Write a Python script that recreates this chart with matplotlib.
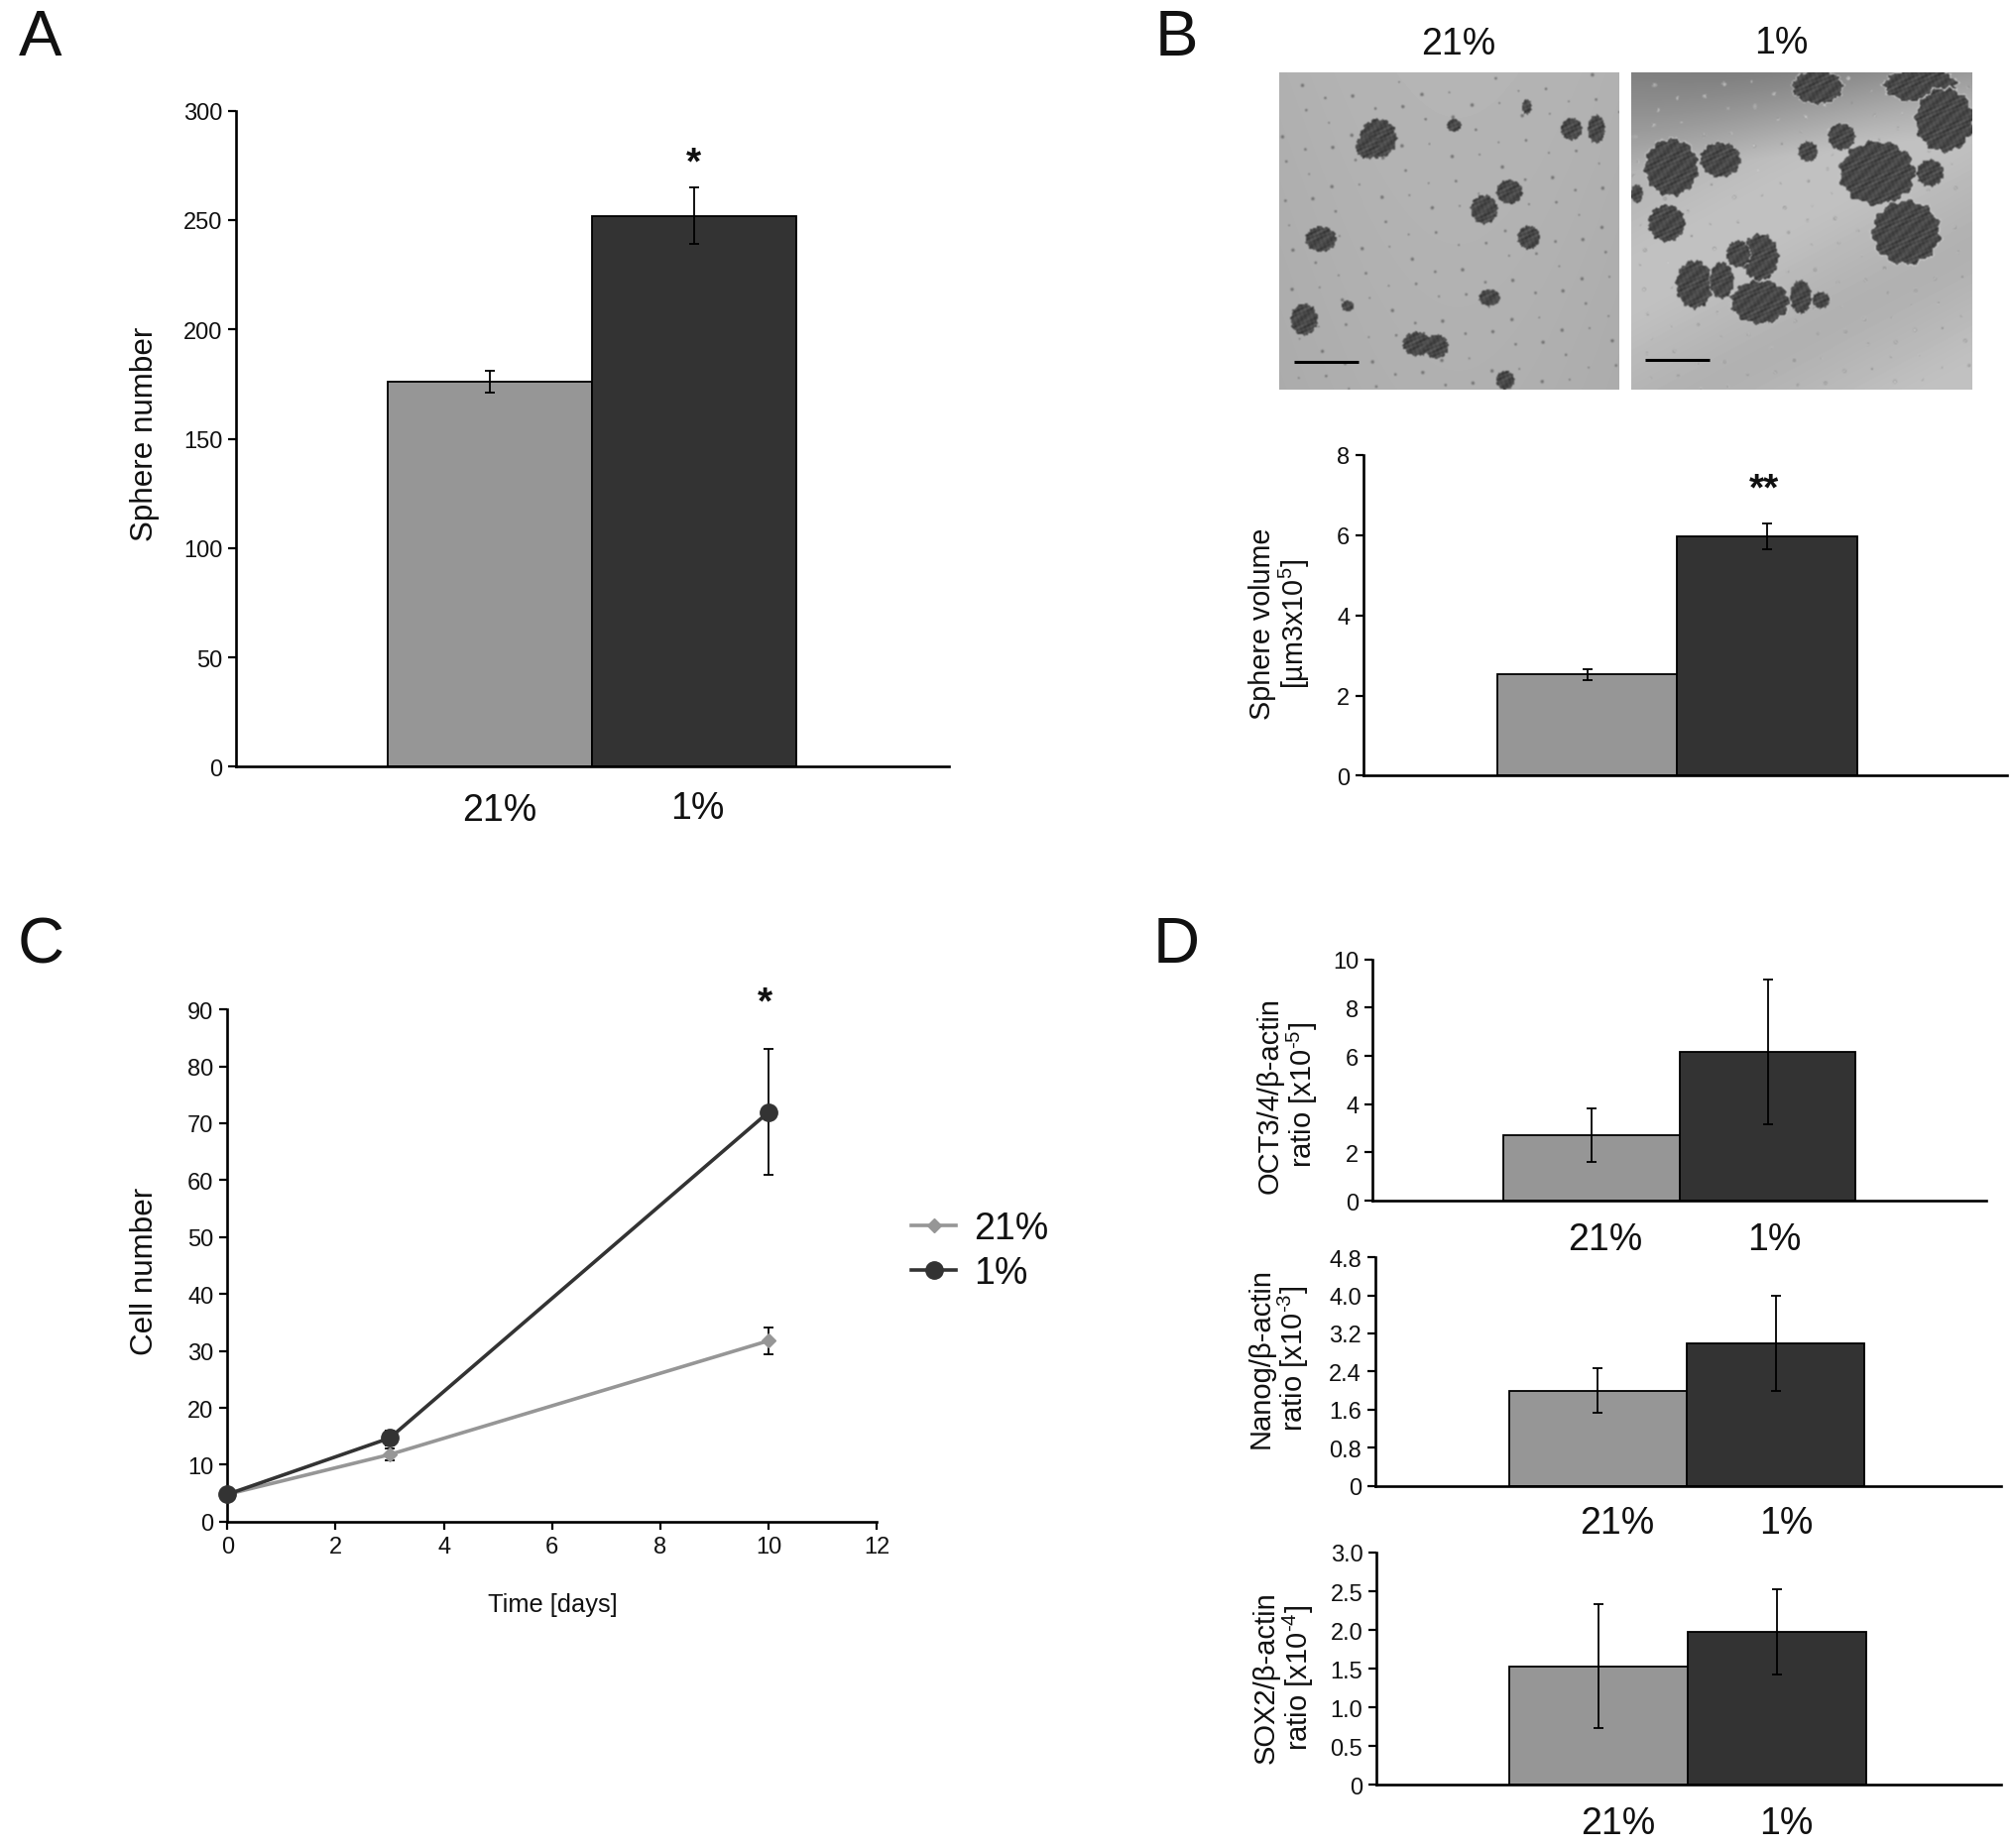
import numpy as np
import matplotlib
matplotlib.use("Agg")
import matplotlib.pyplot as plt

plt.rcParams['font.family'] = ['Liberation Sans', 'DejaVu Sans']
plt.rcParams['mathtext.fontset'] = 'custom'
plt.rcParams['mathtext.rm'] = 'Liberation Sans'
plt.rcParams['mathtext.default'] = 'regular'

W, H = 2031, 1865
S = 1.295
ZX = 2.07
LIGHT = '#969696'
DARK = '#333333'

categories = ['21%', '1%']

sphere_number = [176, 252]
sphere_number_err = [5, 13]
sphere_volume = [2.52, 5.97]
sphere_volume_err = [0.13, 0.33]

days = [0, 3, 10]
cells_21 = [4.8, 11.8, 31.8]
cells_21_err = [0.3, 1.0, 2.4]
cells_1 = [4.8, 14.7, 72.0]
cells_1_err = [0.3, 1.3, 11.0]

oct_vals = [2.72, 6.17]
oct_err = [1.12, 3.0]
nanog_vals = [2.0, 3.0]
nanog_err = [0.47, 1.0]
sox_vals = [1.53, 1.97]
sox_err = [0.8, 0.55]

blobs_left = [(247, 240, 38, 58), (225, 265, 25, 36), (405, 201, 15, 19), (557, 145, 10, 22),
              (650, 212, 22, 33), (702, 212, 18, 42), (521, 402, 27, 36), (468, 455, 28, 43),
              (561, 540, 23, 35), (127, 545, 32, 38), (479, 722, 22, 25), (183, 747, 13, 16),
              (92, 788, 28, 47), (328, 862, 30, 36), (368, 870, 25, 36), (512, 972, 19, 28)]
blobs_right = [(860, 328, 55, 85), (962, 305, 42, 52), (850, 497, 38, 55), (788, 408, 12, 28),
               (1165, 85, 52, 50), (1380, 80, 75, 50), (1430, 185, 60, 95), (1290, 345, 78, 95),
               (1215, 235, 28, 40), (1400, 345, 28, 40), (1350, 525, 70, 95), (1145, 280, 20, 30),
               (908, 682, 38, 72), (965, 670, 25, 55), (1045, 735, 60, 65), (1045, 600, 38, 70),
               (1000, 590, 25, 40), (1130, 720, 22, 50), (1172, 730, 18, 25)]


def make_axes(x0, x1, ytop, ybot):
    return fig.add_axes([x0 * S / W, 1 - ybot * S / H, (x1 - x0) * S / W, (ybot - ytop) * S / H])


def label(x, y, s, size, **kw):
    kw.setdefault('ha', 'center')
    kw.setdefault('va', 'center')
    fig.text(x * S / W, 1 - y * S / H, s, fontsize=size, color='#111111', **kw)


def style(ax, tick_size=17):
    for side in ('top', 'right'):
        ax.spines[side].set_visible(False)
    for side in ('left', 'bottom'):
        ax.spines[side].set_linewidth(1.9)
    ax.tick_params(axis='y', length=6, width=1.6, labelsize=tick_size, pad=4, direction='out',
                   labelcolor='#111111')


def bar_panel(box, bar_edges, values, errs, ylim, yticks, yticklabels):
    x0, x1, ytop, ybot = box
    ax = make_axes(x0, x1, ytop, ybot)
    style(ax)
    b0, b1, b2 = bar_edges
    unit = (b2 - b0) / 2.0
    ax.set_xlim(-0.5 - (b0 - x0) / unit, 1.5 + (x1 - b2) / unit)
    ax.set_ylim(*ylim)
    ax.bar([0, 1], values, width=1.0, color=[LIGHT, DARK], edgecolor='black', linewidth=1.3, zorder=2)
    ax.errorbar([0, 1], values, yerr=errs, fmt='none', ecolor='black', elinewidth=1.3,
                capsize=3.5, capthick=1.3, zorder=3)
    ax.set_xticks([])
    ax.set_yticks(yticks)
    ax.set_yticklabels(yticklabels)
    return ax


def photo(blobs, zx0, zx1, zy0, zy1, dark_top):
    xs = np.arange(zx0, zx1, ZX)
    ys = np.arange(zy0, zy1, 3.0)
    xx, yy = np.meshgrid(xs, ys)
    u = (xx - zx0) / (zx1 - zx0)
    v = (yy - zy0) / (zy1 - zy0)
    if dark_top:
        img = 186 - 58 * np.clip(1.0 - v * 3.2 - 0.35 * u, 0, 1) - 8 * np.sin(v * 7 + u * 4)
    else:
        img = 176 + 5 * np.sin(u * 3) - 5 * v
    n = 170 if dark_top else 150
    for i in range(1, n):
        sx = zx0 + ((i * 0.7548776662) % 1) * (zx1 - zx0)
        sy = zy0 + ((i * 0.5698402910) % 1) * (zy1 - zy0)
        r = 3.5 + (i % 3) * 1.5
        d2 = (((xx - sx) * 1.46) ** 2 + (yy - sy) ** 2) / r ** 2
        if dark_top:
            img = np.where(d2 < 1, 115 + 80 * d2, img)
            img = np.where(d2 < 0.2, 205, img)
        else:
            img = np.where(d2 < 1, 105 + 65 * d2, img)
    for (cx, cy, rx, ry) in blobs:
        dx = (xx - cx) / rx
        dy = (yy - cy) / ry
        ang = np.arctan2(dy, dx)
        edge = 1 + 0.05 * np.sin(11 * ang + cx) + 0.03 * np.sin(23 * ang + cy)
        inside = dx ** 2 + dy ** 2 < edge ** 2
        tex = (72 + 14 * np.sin(xx / 2.1 + 0.13 * yy + cy) * np.sin(yy / 3.3 - 0.2 * xx + cx)
               + 9 * np.sin(xx / 4.3 + yy / 6.1) + 7 * np.sin(yy / 1.9 + xx / 3.1))
        if dark_top:
            halo = (dx ** 2 + dy ** 2 < (edge + 0.05) ** 2) & ~inside
            img = np.where(halo, 195, img)
        img = np.where(inside, tex, img)
    kernel = np.array([0.25, 0.5, 0.25])
    blur = lambda a: np.convolve(np.pad(a, 1, mode='edge'), kernel, 'valid')
    img = np.apply_along_axis(blur, 0, img)
    img = np.apply_along_axis(blur, 1, img)
    return img


fig = plt.figure(figsize=(W / 100, H / 100), dpi=100, facecolor='white')

# Panel letters
label(31, 30, 'A', 47)
label(916, 30, 'B', 47)
label(32, 737, 'C', 47)
label(916, 737, 'D', 47)

# Panel A
ax = bar_panel((184, 739, 87, 598), (302, 461, 620), sphere_number, sphere_number_err,
               (0, 300), [0, 50, 100, 150, 200, 250, 300], ['0', '50', '100', '150', '200', '250', '300'])
label(113, 338, 'Sphere number', 22.6, rotation=90)
label(389, 632, categories[0], 27)
label(543, 630, categories[1], 27)
label(540, 128, '*', 28, fontweight='bold')

# Panel B photos
for (blobs, zr, dark, bar) in ((blobs_left, (41, 751), False, (73, 207, 917)),
                               (blobs_right, (777, 1489), True, (805, 940, 912))):
    zx0, zx1 = zr
    zy0, zy1 = 42, 1002
    px0 = (1270 + zx0 / ZX) / S
    px1 = (1270 + zx1 / ZX) / S
    py0 = (60 + zy0 / 3) / S
    py1 = (60 + zy1 / 3) / S
    pax = make_axes(px0, px1, py0, py1)
    pax.imshow(photo(blobs, zx0, zx1, zy0, zy1, dark), cmap='gray', vmin=0, vmax=255,
               extent=(zx0, zx1, zy1, zy0), aspect='auto', interpolation='bilinear')
    pax.plot(bar[:2], [bar[2], bar[2]], color='black', lw=2.2, solid_capstyle='butt')
    pax.set_xlim(zx0, zx1)
    pax.set_ylim(zy1, zy0)
    pax.axis('off')
label(1136, 35, categories[0], 27)
label(1387, 34, categories[1], 27)

# Panel B chart
ax = bar_panel((1062, 1563, 355, 605), (1166, 1306, 1446), sphere_volume, sphere_volume_err,
               (0, 8), [0, 2, 4, 6, 8], ['0', '2', '4', '6', '8'])
label(997, 486, 'Sphere volume\n[µm3x10$^{5}$]', 20.7, rotation=90, linespacing=1.05)
label(1374, 382, '**', 28, fontweight='bold')

# Panel C
ax = make_axes(177, 683, 787, 1186)
style(ax)
ax.tick_params(axis='x', length=6, width=1.6, labelsize=17, pad=4, labelcolor='#111111')
ax.set_xlim(0, 12)
ax.set_ylim(0, 90)
ax.set_xticks([0, 2, 4, 6, 8, 10, 12])
ax.set_yticks([0, 10, 20, 30, 40, 50, 60, 70, 80, 90])
ax.errorbar(days, cells_21, yerr=cells_21_err, color=LIGHT, ecolor='black', elinewidth=1.3, capsize=3.5,
            capthick=1.3, lw=2.6, marker='D', ms=7.5, mfc=LIGHT, mec=LIGHT, label=categories[0],
            clip_on=False, zorder=3)
ax.errorbar(days, cells_1, yerr=cells_1_err, color=DARK, ecolor='black', elinewidth=1.3, capsize=3.5,
            capthick=1.3, lw=2.6, marker='o', ms=12.5, mfc=DARK, mec=DARK, label=categories[1],
            clip_on=False, zorder=4)
handles, labels_ = ax.get_legend_handles_labels()
handles = [h[0] for h in handles]
leg = ax.legend(handles, labels_, frameon=False, fontsize=27, loc='center left',
                bbox_to_anchor=((710 - 177) / 506.0, (1186 - 975) / 399.0),
                handlelength=1.2, handletextpad=0.47, labelspacing=0.25, borderpad=0, borderaxespad=0)
for t in leg.get_texts():
    t.set_color('#111111')
label(430, 1250, 'Time [days]', 18.3)
label(113, 990, 'Cell number', 22.6, rotation=90)
label(596, 782, '*', 28, fontweight='bold')

# Panel D
ax = bar_panel((1069, 1547, 748, 936), (1171, 1308, 1445), oct_vals, oct_err,
               (0, 10), [0, 2, 4, 6, 8, 10], ['0', '2', '4', '6', '8', '10'])
label(1003, 853, 'OCT3/4/β-actin\nratio [x10$^{\\text{-5}}$]', 21, rotation=90, linespacing=1.05)
label(1250, 966, categories[0], 27)
label(1382, 966, categories[1], 27)

ax = bar_panel((1071, 1558, 980, 1158), (1175, 1314, 1452), nanog_vals, nanog_err,
               (0, 4.8), [0, 0.8, 1.6, 2.4, 3.2, 4.0, 4.8], ['0', '0.8', '1.6', '2.4', '3.2', '4.0', '4.8'])
label(996, 1058, 'Nanog/β-actin\nratio [x10$^{\\text{-3}}$]', 21, rotation=90, linespacing=1.05)
label(1259, 1187, categories[0], 27)
label(1391, 1187, categories[1], 27)

ax = bar_panel((1072, 1558, 1210, 1391), (1175, 1314, 1453), sox_vals, sox_err,
               (0, 3.0), [0, 0.5, 1.0, 1.5, 2.0, 2.5, 3.0], ['0', '0.5', '1.0', '1.5', '2.0', '2.5', '3.0'])
label(1000, 1307, 'SOX2/β-actin\nratio [x10$^{\\text{-4}}$]', 21, rotation=90, linespacing=1.05)
label(1260, 1421, categories[0], 27)
label(1391, 1421, categories[1], 27)

fig.savefig('out.png', dpi=100, facecolor='white')
